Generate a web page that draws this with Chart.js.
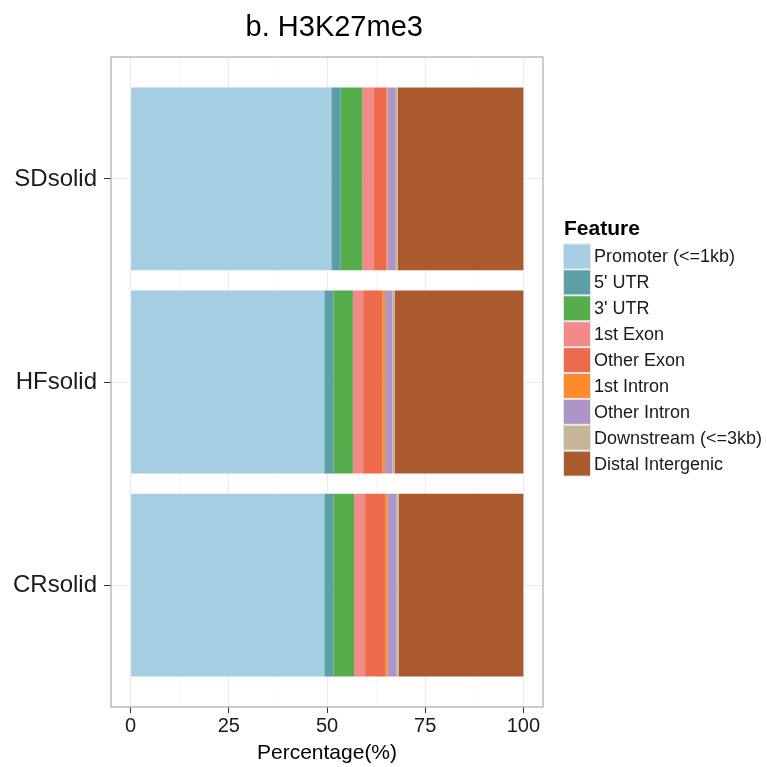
<!DOCTYPE html>
<html>
<head>
<meta charset="utf-8">
<script src="https://cdn.jsdelivr.net/npm/chart.js@4"></script>
<style>
  body { margin: 0; background: #fff; }
  #wrap { width: 767px; height: 767px; }
</style>
</head>
<body>
<div id="wrap"><canvas id="chart" width="767" height="767"></canvas></div>
<script>
// samples, top to bottom
const samples = ['SDsolid', 'HFsolid', 'CRsolid'];

const features = [
  'Promoter (<=1kb)', "5' UTR", "3' UTR", '1st Exon', 'Other Exon',
  '1st Intron', 'Other Intron', 'Downstream (<=3kb)', 'Distal Intergenic',
];
const featureColors = [
  '#a6cee3', '#5a9ea6', '#55ae4b', '#f38a8a', '#ee6c4d',
  '#fd8a2b', '#ae95c8', '#c6b598', '#ab5a2e',
];

// percentages per feature, in sample order
const promoter = [51.1, 49.3, 49.3];
const utr5 = [2.4, 2.3, 2.3];
const utr3 = [5.5, 5.0, 5.3];
const exon1 = [2.8, 2.6, 2.8];
const exonOther = [3.4, 4.9, 5.1];
const intron1 = [0.2, 0.7, 0.6];
const intronOther = [2.1, 1.8, 2.3];
const downstream = [0.5, 0.6, 0.6];
const distal = [32.0, 32.8, 31.7];

const xTicks = [0, 25, 50, 75, 100];
const xMinor = [12.5, 37.5, 62.5, 87.5];

const seriesValues = [promoter, utr5, utr3, exon1, exonOther, intron1, intronOther, downstream, distal];

// sample slot on the y axis: first sample at the top
const slotOf = (i) => samples.length - i;

const datasets = features.map((name, k) => ({
  label: name,
  data: seriesValues[k].map((v, i) => ({ x: v, y: slotOf(i) })),
  backgroundColor: featureColors[k],
  borderWidth: 0,
  barPercentage: 0.9,
  categoryPercentage: 1.0,
}));

const textColor = '#1a1a1a';
const fontFamily = '"Liberation Sans", Arial, Helvetica, sans-serif';

const panelBorder = {
  id: 'panelBorder',
  afterDatasetsDraw(chart) {
    const { ctx, chartArea: a } = chart;
    ctx.save();
    ctx.strokeStyle = '#ababab';
    ctx.lineWidth = 1.2;
    ctx.strokeRect(a.left, a.top, a.right - a.left, a.bottom - a.top);
    ctx.restore();
  },
};

const featureLegend = {
  id: 'featureLegend',
  afterDraw(chart) {
    const { ctx } = chart;
    const x0 = 563;
    const keyW = 28;
    const keyH = 25.9;
    const top = 243.5;
    ctx.save();
    ctx.fillStyle = '#000';
    ctx.font = 'bold 21px ' + fontFamily;
    ctx.textBaseline = 'middle';
    ctx.textAlign = 'left';
    ctx.fillText('Feature', x0 + 1, 229);
    ctx.font = '18px ' + fontFamily;
    chart.data.datasets.forEach((ds, k) => {
      const y = top + k * keyH;
      ctx.fillStyle = '#e6e6e6';
      ctx.fillRect(x0, y, keyW, keyH);
      ctx.fillStyle = ds.backgroundColor;
      ctx.fillRect(x0 + 1, y + 1, keyW - 2, keyH - 2);
      ctx.fillStyle = textColor;
      ctx.fillText(ds.label, x0 + keyW + 3, y + keyH / 2 + 1);
    });
    ctx.restore();
  },
};

new Chart(document.getElementById('chart'), {
  type: 'bar',
  data: { datasets },
  plugins: [panelBorder, featureLegend],
  options: {
    responsive: false,
    animation: false,
    indexAxis: 'y',
    layout: { padding: { left: 0, right: 224, top: 0, bottom: 0 } },
    plugins: {
      legend: { display: false },
      tooltip: { enabled: false },
      title: {
        display: true,
        fullSize: false,
        text: '\u2002b. H3K27me3',
        color: '#000',
        font: { family: fontFamily, size: 29, weight: 'normal', lineHeight: 1.2 },
        padding: { top: 11, bottom: 11.2 },
      },
    },
    scales: {
      x: {
        type: 'linear',
        stacked: true,
        min: -5,
        max: 105,
        afterBuildTicks(scale) {
          scale.ticks = [...xTicks, ...xMinor].sort((a, b) => a - b).map(v => ({ value: v }));
        },
        afterFit(scale) { scale.height = 60; },
        border: { display: false },
        grid: {
          color: (c) => (xTicks.includes(c.tick.value) ? '#ebebeb' : '#f6f6f6'),
          tickColor: (c) => (xTicks.includes(c.tick.value) ? '#333333' : 'rgba(0,0,0,0)'),
          tickLength: 6,
          lineWidth: 1,
        },
        ticks: {
          autoSkip: false,
          maxRotation: 0,
          padding: 1,
          color: textColor,
          font: { family: fontFamily, size: 20 },
          callback: (v) => (xTicks.includes(v) ? String(v) : ''),
        },
        title: {
          display: true,
          text: 'Percentage(%)',
          color: '#000',
          font: { family: fontFamily, size: 21 },
          padding: { top: 0, bottom: 1 },
        },
      },
      y: {
        type: 'linear',
        stacked: true,
        offset: false,
        min: 0.4,
        max: samples.length + 0.6,
        afterBuildTicks(scale) {
          scale.ticks = samples.map((s, i) => ({ value: slotOf(i) }));
        },
        afterFit(scale) { scale.width = 111; },
        border: { display: false },
        grid: {
          offset: false,
          color: '#ebebeb',
          tickColor: '#333333',
          tickLength: 7,
        },
        ticks: {
          autoSkip: false,
          padding: 7,
          color: textColor,
          font: { family: fontFamily, size: 24 },
          callback: (v) => samples[samples.length - v] ?? '',
        },
      },
    },
  },
});
</script>
</body>
</html>
